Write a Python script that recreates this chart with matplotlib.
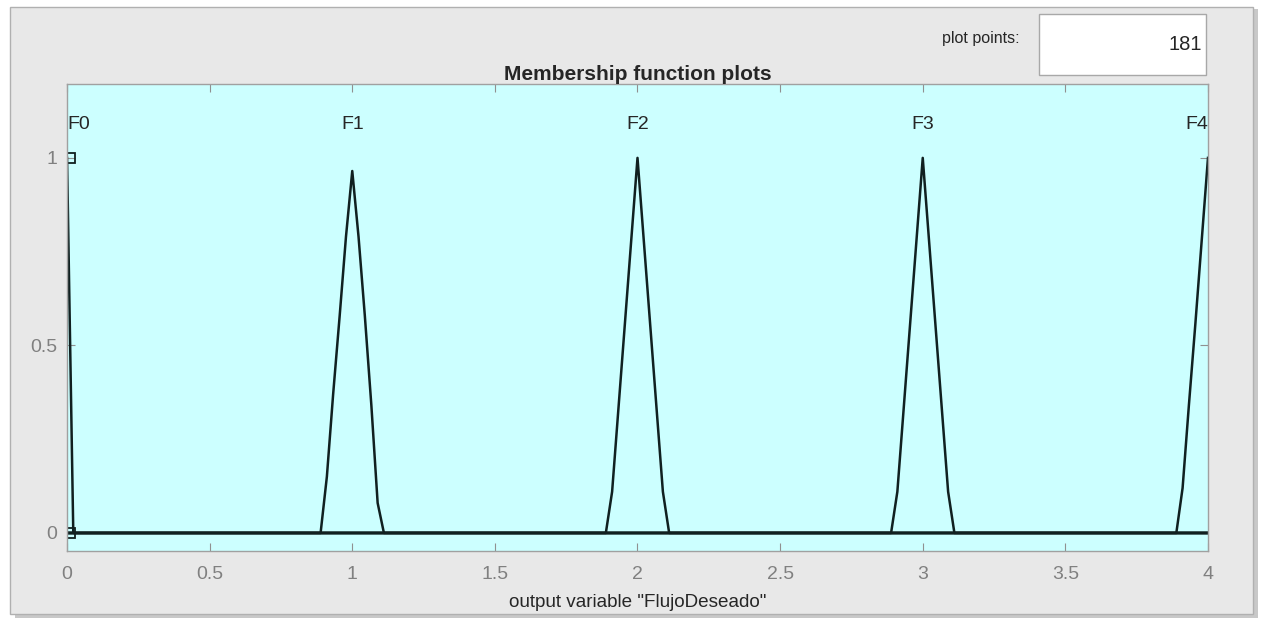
import matplotlib
matplotlib.use("Agg")
import matplotlib.pyplot as plt
from matplotlib.patches import Rectangle

plt.rcParams["font.family"] = ["Liberation Sans", "DejaVu Sans"]

f0_x = [0.0, 0.022, 4.0]
f0_y = [1.0, 0.0, 0.0]
f1_x = [0.0, 0.889, 0.911, 0.933, 0.956, 0.978, 1.0, 1.022, 1.044, 1.067, 1.089, 1.111, 4.0]
f1_y = [0.0, 0.0, 0.15, 0.37, 0.58, 0.79, 0.965, 0.79, 0.58, 0.34, 0.08, 0.0, 0.0]
f2_x = [0.0, 1.889, 1.911, 1.933, 1.956, 1.978, 2.0, 2.022, 2.044, 2.067, 2.089, 2.111, 4.0]
f2_y = [0.0, 0.0, 0.11, 0.33, 0.56, 0.78, 1.0, 0.78, 0.56, 0.33, 0.11, 0.0, 0.0]
f3_x = [0.0, 2.889, 2.911, 2.933, 2.956, 2.978, 3.0, 3.022, 3.044, 3.067, 3.089, 3.111, 4.0]
f3_y = [0.0, 0.0, 0.11, 0.33, 0.56, 0.78, 1.0, 0.78, 0.56, 0.33, 0.11, 0.0, 0.0]
f4_x = [0.0, 3.889, 3.911, 3.933, 3.956, 3.978, 4.0]
f4_y = [0.0, 0.0, 0.12, 0.34, 0.56, 0.78, 1.0]

mf_names = ["F0", "F1", "F2", "F3", "F4"]
mf_centers = [0.0, 1.0, 2.0, 3.0, 4.0]
xticks = [0, 0.5, 1, 1.5, 2, 2.5, 3, 3.5, 4]
yticks = [0, 0.5, 1]
plot_points = 181

fig = plt.figure(figsize=(12.62, 6.23), dpi=100, facecolor="white")

# Panneau gris de la fenêtre (derrière les axes)
fig.add_artist(Rectangle((0.012, 0.008), 0.985, 0.977, transform=fig.transFigure,
                         facecolor="#c8c8c8", edgecolor="none", zorder=-2))
fig.add_artist(Rectangle((0.008, 0.014), 0.985, 0.975, transform=fig.transFigure,
                         facecolor="#e8e8e8", edgecolor="#b0b0b0", linewidth=1, zorder=-1))

ax = fig.add_axes([0.0531, 0.1156, 0.9041, 0.7496])
ax.set_facecolor("#ccffff")

for xs, ys in [(f0_x, f0_y), (f1_x, f1_y), (f2_x, f2_y), (f3_x, f3_y), (f4_x, f4_y)]:
    ax.plot(xs, ys, color="#102020", linewidth=1.8)

# Poignées de la fonction sélectionnée
ax.plot([0.012, 0.012], [1, 0], linestyle="none", marker="s", markersize=7,
        markerfacecolor="none", markeredgecolor="#102020", markeredgewidth=1.3)

for name, c in zip(mf_names, mf_centers):
    ha = "left" if c == 0 else ("right" if c == 4 else "center")
    ax.text(c, 1.09, name, ha=ha, va="center", fontsize=14, color="#262626")

ax.set_xlim(0, 4)
ax.set_ylim(-0.048, 1.197)
ax.set_xticks(xticks)
ax.set_xticklabels([f"{t:g}" for t in xticks])
ax.set_yticks(yticks)
ax.set_yticklabels([f"{t:g}" for t in yticks])
ax.tick_params(direction="in", top=True, right=True, length=6, width=0.8,
               colors="#909090", labelcolor="#808080", labelsize=14)
ax.tick_params(axis="x", pad=11)
ax.tick_params(axis="y", pad=7)
for s in ax.spines.values():
    s.set_color("#a0a0a0")
    s.set_linewidth(1)

ax.set_title("Membership function plots", fontsize=15, fontweight="bold",
             color="#262626", pad=3)
ax.set_xlabel('output variable "FlujoDeseado"', fontsize=13.6, color="#262626", labelpad=8)

# Champ "plot points"
fig.text(981 / 1262, 1 - 38 / 623, "plot points:", fontsize=11.5, color="#262626",
         ha="center", va="center")
fig.add_artist(Rectangle((1039 / 1262, 1 - 75 / 623), 167 / 1262, 61 / 623,
                         transform=fig.transFigure, facecolor="white",
                         edgecolor="#a8a8a8", linewidth=1, zorder=1))
fig.text(1202 / 1262, 1 - 45 / 623, str(plot_points), fontsize=14.5, color="#262626",
         ha="right", va="center")

fig.savefig("out.png", dpi=100, facecolor=fig.get_facecolor())
